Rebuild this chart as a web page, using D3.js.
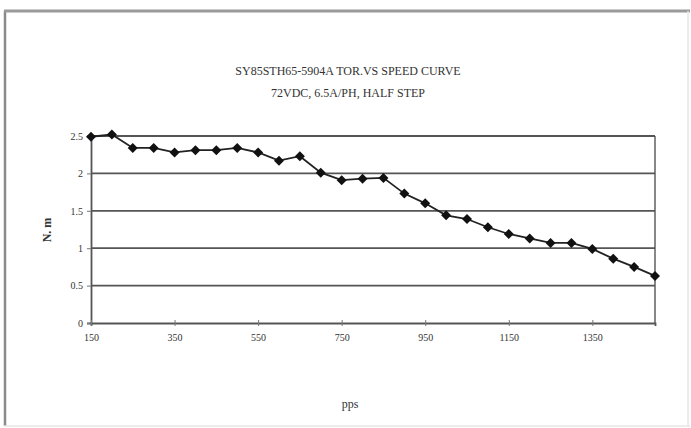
<!DOCTYPE html>
<html><head><meta charset="utf-8">
<script src="https://cdn.jsdelivr.net/npm/d3@7"></script>
<style>body{margin:0;background:#fff}svg{display:block}</style>
</head><body>
<svg id="c" width="691" height="428"></svg>
<script>
const speeds = [150,200,250,300,350,400,450,500,550,600,650,700,750,800,850,900,950,1000,1050,1100,1150,1200,1250,1300,1350,1400,1450,1500];
const torque = [2.49,2.52,2.34,2.34,2.28,2.31,2.31,2.34,2.28,2.17,2.23,2.01,1.91,1.93,1.94,1.73,1.60,1.44,1.39,1.28,1.19,1.13,1.07,1.07,0.99,0.86,0.75,0.63];
const xTickLabels = [150,350,550,750,950,1150,1350];
const yTicks = [0,0.5,1,1.5,2,2.5];
const titleLines = ["SY85STH65-5904A TOR.VS SPEED CURVE","72VDC, 6.5A/PH, HALF STEP"];

const svg = d3.select("#c");
const F = "'Liberation Serif','DejaVu Serif',serif";
// frame
svg.append("line").attr("x1",5).attr("x2",5).attr("y1",11).attr("y2",426).attr("stroke","#8a8a8a").attr("stroke-width",2.5);
svg.append("line").attr("x1",4).attr("x2",690).attr("y1",11).attr("y2",11).attr("stroke","#9a9a9a").attr("stroke-width",3);
svg.append("line").attr("x1",688).attr("x2",688).attr("y1",11).attr("y2",426).attr("stroke","#e6e6e6").attr("stroke-width",1.5);
svg.append("line").attr("x1",4).attr("x2",690).attr("y1",426).attr("y2",426).attr("stroke","#e6e6e6").attr("stroke-width",1.5);

const L=91,R=655,T=136,B=323;
const x = d3.scalePoint().domain(speeds).range([L,R]);
const y = d3.scaleLinear().domain([0,2.5]).range([B,T]);

// gridlines
svg.append("g").selectAll("line").data(yTicks.filter(d=>d>0)).join("line")
  .attr("x1",L).attr("x2",R).attr("y1",d=>y(d)).attr("y2",d=>y(d))
  .attr("stroke","#555").attr("stroke-width",1.8);
// right border
svg.append("line").attr("x1",R).attr("x2",R).attr("y1",T).attr("y2",B).attr("stroke","#555").attr("stroke-width",1.4);

// y axis
const ya = svg.append("g").attr("transform",`translate(${L},0)`)
  .call(d3.axisLeft(y).tickValues(yTicks).tickSize(4).tickFormat(d=>String(d)));
ya.select(".domain").attr("stroke","#555").attr("stroke-width",1.8);
ya.selectAll(".tick line").attr("stroke","#777");
ya.selectAll("text").attr("font-family",F).attr("font-size",10).attr("fill","#333").attr("x",-8);

// x axis
const xa = svg.append("g").attr("transform",`translate(0,${B})`)
  .call(d3.axisBottom(x).tickValues(xTickLabels).tickSize(3).tickFormat(d=>String(d)));
xa.select(".domain").attr("stroke","#555").attr("stroke-width",1.8);
xa.selectAll(".tick line").attr("stroke","#777").attr("y1",-3);
xa.selectAll("text").attr("font-family",F).attr("font-size",10).attr("fill","#333").attr("dy","1.2em");

// line
svg.append("path").datum(speeds.map((s,i)=>[s,torque[i]]))
  .attr("d",d3.line().x(d=>x(d[0])).y(d=>y(d[1])))
  .attr("fill","none").attr("stroke","#222").attr("stroke-width",1.8);
svg.append("g").selectAll("path").data(speeds.map((s,i)=>[s,torque[i]])).join("path")
  .attr("transform",d=>`translate(${x(d[0])},${y(d[1])}) rotate(45)`)
  .attr("d",d3.symbol(d3.symbolSquare,50)).attr("fill","#111");

// titles
svg.append("g").selectAll("text").data(titleLines).join("text")
  .attr("x",348).attr("y",(d,i)=>75+i*22).attr("text-anchor","middle")
  .attr("font-family",F).attr("font-size",12).attr("fill","#333").text(d=>d);
svg.append("text").attr("x",350).attr("y",408).attr("text-anchor","middle")
  .attr("font-family",F).attr("font-size",12).attr("fill","#333").text("pps");
svg.append("text").attr("transform","translate(51,230) rotate(-90)").attr("text-anchor","middle")
  .attr("font-family",F).attr("font-size",12).attr("font-weight","bold").attr("fill","#333").text("N. m");
</script>
</body></html>
